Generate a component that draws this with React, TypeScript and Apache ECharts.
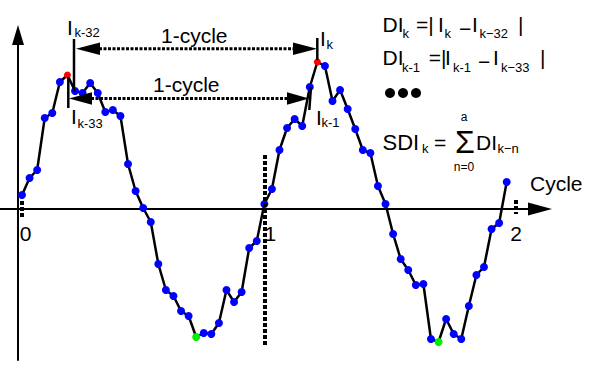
import React, { useEffect, useRef } from 'react';
import * as echarts from 'echarts';

// ---- data ----
const samplesPerCycle = 32;
const intensity = [
  1.4, 3.1, 3.9, 9.1, 9.6, 12.7, 13.4, 11.8, 11.6, 12.6, 11.6, 9.7, 9.9, 9.3, 4.5, 1.8,
  0.1, -1.3, -5.5, -8.1, -8.7, -10.2, -10.7, -12.8, -12.4, -12.5, -11.4, -8.1, -9.3, -8.3, -3.9, -3.2,
  0.5, 2.0, 5.9, 8.1, 9.0, 8.3, 12.2, 14.7, 14.3, 10.8, 11.9, 10.0, 8.0, 5.9, 5.6, 2.3,
  0.5, -2.5, -5.0, -6.1, -7.6, -7.5, -13.0, -13.3, -11.0, -12.5, -13.0, -9.7, -6.6, -5.8, -2.0, -1.4,
  2.7,
];
const peakIndices = [6, 39];
const troughIndices = [23, 55];
const tickValues = [0, 1, 2];
const tickLabels = ['0', '1', '2'];
const axisName = 'Cycle';
const cycleLabel = '1-cycle';

// ---- layout constants ----
const FONT = '"Liberation Sans", Arial, sans-serif';
const PX_PER_CYCLE = 242.35;
const ORIGIN_PX = 22;
const labelShift = [3.5, 6, 9.3];

const txt = (text: string, x: number, y: number, size: number, align: string = 'left', lineHeight?: number) => ({
  type: 'text',
  x,
  y,
  silent: true,
  z: 10,
  style: {
    text,
    fontSize: size,
    fontFamily: FONT,
    fill: '#000',
    align,
    verticalAlign: 'middle',
    textAlign: align,
    textVerticalAlign: 'middle',
    lineHeight: lineHeight || size,
  },
});

const seg = (x1: number, y1: number, x2: number, y2: number, w: number, dash?: number[]) => ({
  type: 'line',
  silent: true,
  z: 10,
  shape: { x1, y1, x2, y2 },
  style: { stroke: '#000', lineWidth: w, lineDash: dash || null },
});

const tri = (pts: number[][]) => ({
  type: 'polygon',
  silent: true,
  z: 10,
  shape: { points: pts },
  style: { fill: '#000' },
});

const dot = (cx: number, cy: number) => ({
  type: 'circle',
  silent: true,
  z: 10,
  shape: { cx, cy, r: 5 },
  style: { fill: '#000' },
});

export default function App() {
  const ref = useRef<HTMLDivElement>(null);
  useEffect(() => {
    document.body.style.margin = '0';
    const chart = echarts.init(ref.current!, null, { renderer: 'svg' });

    const data = intensity.map((v, i) => {
      const item: any = { value: [i / samplesPerCycle, v] };
      if (peakIndices.includes(i)) {
        item.itemStyle = { color: '#ff0000' };
        item.symbolSize = 7;
      }
      if (troughIndices.includes(i)) item.itemStyle = { color: '#00ee00' };
      return item;
    });

    const tickMarkValue = (i: number) => tickValues[i] + (i === 2 ? labelShift[2] / PX_PER_CYCLE : 0);

    const option: any = {
      animation: false,
      grid: { left: 0, right: 52, top: 35, bottom: 19, containLabel: false },
      xAxis: {
        type: 'value',
        min: -ORIGIN_PX / PX_PER_CYCLE,
        max: (540 - ORIGIN_PX) / PX_PER_CYCLE,
        axisLine: {
          show: true,
          onZero: true,
          symbol: ['none', 'triangle'],
          symbolSize: [13, 24],
          lineStyle: { color: '#000', width: 2 },
        },
        axisTick: { show: false },
        axisLabel: { show: false },
        splitLine: { show: false },
      },
      yAxis: {
        type: 'value',
        min: -15.1,
        max: 17.4,
        position: 'left',
        offset: -18,
        axisLine: {
          show: true,
          onZero: false,
          symbol: ['none', 'triangle'],
          symbolSize: [12, 20],
          lineStyle: { color: '#000', width: 2 },
        },
        axisTick: { show: false },
        axisLabel: { show: false },
        splitLine: { show: false },
      },
      series: [
        {
          type: 'line',
          data,
          symbol: 'circle',
          symbolSize: 8,
          showSymbol: true,
          itemStyle: { color: '#0000ff' },
          lineStyle: { color: '#000', width: 2.5 },
          z: 3,
          markLine: {
            silent: true,
            symbol: ['none', 'none'],
            label: { show: false },
            lineStyle: { color: '#000', width: 4, type: [4, 2] },
            emphasis: { disabled: true },
            data: [
              [{ coord: [tickMarkValue(0), 0.8] }, { coord: [tickMarkValue(0), -0.8] }],
              [{ coord: [tickMarkValue(1), 5.4] }, { coord: [tickMarkValue(1), -13.6] }],
              [{ coord: [tickMarkValue(2), 0.9] }, { coord: [tickMarkValue(2), -0.5] }],
            ],
          },
        },
      ],
    };
    chart.setOption(option);

    const tickTexts = tickValues.map((v, i) => {
      const px = chart.convertToPixel({ xAxisIndex: 0 }, v) as number;
      return txt(tickLabels[i], px + labelShift[i], 233.5, 21, 'center');
    });

    const dash = [3, 1.5];
    const graphic = [
      ...tickTexts,
      txt(axisName, 530, 183.5, 21),
      // top 1-cycle arrow
      seg(99, 48.7, 294, 48.7, 3, dash),
      tri([[76, 48.7], [100, 42.5], [100, 55]]),
      tri([[317, 48.7], [293, 42.5], [293, 55]]),
      txt(cycleLabel, 161, 35.5, 21),
      // second 1-cycle arrow
      seg(91, 98.5, 288, 98.5, 3, dash),
      tri([[69, 98.5], [92, 92.3], [92, 104.7]]),
      tri([[309, 98.5], [287, 92.3], [287, 104.7]]),
      txt(cycleLabel, 153, 84.5, 21),
      // vertical markers
      seg(74, 39, 74, 92, 2.5),
      seg(317.3, 38, 317.3, 60, 2.5),
      seg(68.3, 77, 68.3, 108, 2.5),
      seg(311, 87, 309.3, 110, 2.5),
      // marker labels
      txt('I', 67, 27.5, 21), txt('k-32', 74.5, 32.5, 13),
      txt('I', 71, 116.5, 21), txt('k-33', 77.5, 123, 13),
      txt('I', 320, 38, 21), txt('k', 326.5, 44, 13),
      txt('I', 316, 117.5, 21), txt('k-1', 321.5, 122.5, 13),
      // formula line 1
      txt('DI', 382.5, 24.2, 21), txt('k', 402.5, 33.5, 13),
      txt('=|', 416, 24.2, 21),
      txt('I', 438, 24.2, 21), txt('k', 444.5, 33.5, 13),
      txt('\u2212', 459, 28, 21),
      txt('I', 472, 24.2, 21), txt('k\u221232', 479.5, 33.5, 13),
      txt('|', 518, 24.2, 21),
      // formula line 2
      txt('DI', 382.5, 57.5, 21), txt('k-1', 402, 67.5, 13),
      txt('=|', 428.8, 57.5, 21),
      txt('I', 445, 57.5, 21), txt('k-1', 453, 67.5, 13),
      txt('\u2212', 478, 61.5, 21),
      txt('I', 493, 57.5, 21), txt('k\u221233', 501, 67.5, 13),
      txt('|', 540, 57.5, 21),
      // bullets
      dot(390, 93), dot(403, 93), dot(416, 93),
      // SDI formula
      txt('SDI', 382.5, 142.5, 22), txt('k', 422, 148.5, 13),
      txt('=', 434, 142.5, 21),
      txt('\u03a3', 465, 142, 32, 'center'),
      txt('a', 464, 117, 12, 'center'),
      txt('n=0', 464, 167, 12, 'center'),
      txt('DI', 476, 142.5, 21), txt('k\u2212n', 497.5, 148.5, 13),
    ];
    chart.setOption({ graphic });

    return () => chart.dispose();
  }, []);
  return <div ref={ref} style={{ position: 'absolute', left: 0, top: 0, width: 592, height: 379 }} />;
}
